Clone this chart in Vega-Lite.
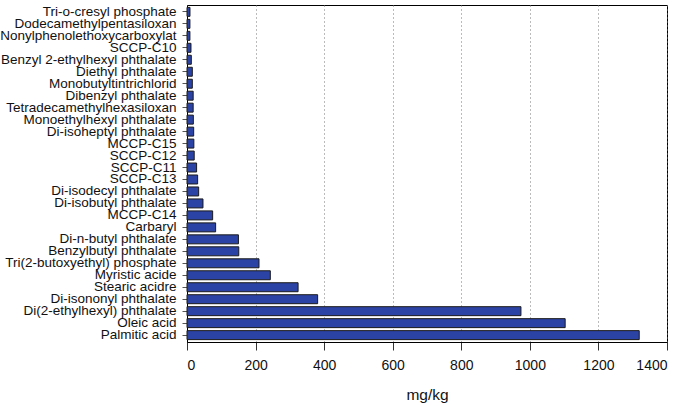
{
  "$schema": "https://vega.github.io/schema/vega-lite/v6.json",
  "width": 480,
  "height": 337,
  "autosize": "none",
  "padding": {"left": 187, "top": 5, "right": 18, "bottom": 68},
  "background": "white",
  "config": {
    "font": "Liberation Sans",
    "view": {"stroke": "black", "strokeWidth": 1}
  },
  "data": {
    "values": [
      {"compound": "Tri-o-cresyl phosphate", "value": 8.7},
      {"compound": "Dodecamethylpentasiloxan", "value": 8.5},
      {"compound": "Nonylphenolethoxycarboxylat", "value": 8.5},
      {"compound": "SCCP-C10", "value": 11.6},
      {"compound": "Benzyl 2-ethylhexyl phthalate", "value": 12.6},
      {"compound": "Diethyl phthalate", "value": 15.5},
      {"compound": "Monobutyltintrichlorid", "value": 15.5},
      {"compound": "Dibenzyl phthalate", "value": 18},
      {"compound": "Tetradecamethylhexasiloxan", "value": 18},
      {"compound": "Monoethylhexyl phthalate", "value": 18.5},
      {"compound": "Di-isoheptyl phthalate", "value": 19.5},
      {"compound": "MCCP-C15", "value": 20},
      {"compound": "SCCP-C12", "value": 21},
      {"compound": "SCCP-C11", "value": 28},
      {"compound": "SCCP-C13", "value": 31},
      {"compound": "Di-isodecyl phthalate", "value": 34},
      {"compound": "Di-isobutyl phthalate", "value": 46.6},
      {"compound": "MCCP-C14", "value": 74.8},
      {"compound": "Carbaryl", "value": 83.5},
      {"compound": "Di-n-butyl phthalate", "value": 150},
      {"compound": "Benzylbutyl phthalate", "value": 151},
      {"compound": "Tri(2-butoxyethyl) phosphate", "value": 210},
      {"compound": "Myristic acide", "value": 243},
      {"compound": "Stearic acidre", "value": 324},
      {"compound": "Di-isononyl phthalate", "value": 381},
      {"compound": "Di(2-ethylhexyl) phthalate", "value": 974},
      {"compound": "Oleic acid", "value": 1103},
      {"compound": "Palmitic acid", "value": 1319}
    ]
  },
  "mark": {"type": "bar", "color": "#2C43A6", "stroke": "#1a1a1a", "strokeWidth": 1},
  "encoding": {
    "y": {
      "field": "compound",
      "type": "nominal",
      "sort": null,
      "scale": {"paddingInner": 0.25, "paddingOuter": 0.2},
      "axis": {
        "title": null,
        "domainColor": "black",
        "domainWidth": 1,
        "tickColor": "#555",
        "tickSize": 5,
        "labelFontSize": 13.5,
        "labelColor": "#111",
        "labelPadding": 6,
        "labelLimit": 300,
        "labelOverlap": false
      }
    },
    "x": {
      "field": "value",
      "type": "quantitative",
      "scale": {"domain": [0, 1400], "nice": false},
      "axis": {
        "title": "mg/kg",
        "titleFontSize": 15.5,
        "titleFontWeight": "normal",
        "titleColor": "#111",
        "titlePadding": 15,
        "format": "d",
        "values": [0, 200, 400, 600, 800, 1000, 1200, 1400],
        "domainColor": "black",
        "domainWidth": 1,
        "tickColor": "#333",
        "tickSize": 8,
        "labelFontSize": 14,
        "labelColor": "#111",
        "labelPadding": 8,
        "grid": true,
        "gridColor": "#777",
        "gridDash": [1, 3],
        "gridWidth": 1
      }
    }
  }
}
